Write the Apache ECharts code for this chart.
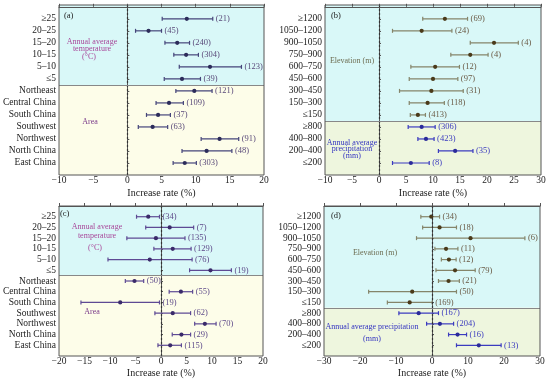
<!DOCTYPE html>
<html><head><meta charset="utf-8">
<script src="https://cdn.jsdelivr.net/npm/echarts@6/dist/echarts.min.js"></script>
<style>html,body{margin:0;padding:0;background:#fff}#c{width:550px;height:386px}</style>
</head><body><div id="c"></div>
<script>
// ---- data ----
const catsAC = ['≥25','20–25','15–20','10–15','5–10','≤5','Northeast','Central China','South China','Southwest','Northwest','North China','East China'];
const catsBD = ['≥1200','1050–1200','900–1050','750–900','600–750','450–600','300–450','150–300','≤150','≥800','400–800','200–400','≤200'];

const meanA = [8.7, 3.1, 7.3, 8.6, 12.1, 8.0, 9.8, 6.1, 4.5, 3.7, 13.5, 11.6, 8.4];
const lowA  = [5.1, 1.2, 5.5, 6.8, 7.6, 5.4, 7.1, 4.2, 2.8, 1.6, 10.8, 8.0, 6.7];
const highA = [12.5, 5.0, 9.1, 10.4, 16.7, 10.7, 12.4, 8.2, 6.3, 5.9, 16.3, 15.3, 10.1];
const nA    = [21, 45, 240, 304, 123, 39, 121, 109, 37, 63, 91, 48, 303];

const meanB = [12.2, 7.9, 21.3, 16.9, 10.4, 10.0, 9.7, 9.0, 7.2, 7.9, 8.7, 14.1, 5.9];
const lowB  = [8.1, 2.5, 16.9, 13.3, 5.9, 5.6, 3.8, 5.6, 5.8, 5.4, 7.2, 11.0, 2.5];
const highB = [16.4, 13.5, 25.8, 20.2, 14.9, 14.6, 15.6, 12.1, 8.6, 10.4, 10.2, 17.4, 9.3];
const nB    = [69, 24, 4, 4, 12, 97, 31, 118, 413, 306, 423, 35, 8];

const meanC = [-2.5, 1.7, -1.0, 2.3, -2.2, 9.7, -5.2, 3.9, -8.0, 2.3, 8.6, 4.0, 1.8];
const lowC  = [-4.8, -3.0, -6.7, -1.4, -10.4, 5.6, -7.0, 1.6, -15.7, -1.2, 6.6, 2.2, -0.6];
const highC = [-0.3, 6.4, 4.7, 5.9, 6.1, 13.8, -3.4, 6.2, -0.3, 5.8, 10.8, 5.8, 4.0];
const nC    = [34, 7, 135, 129, 76, 19, 50, 55, 19, 62, 70, 29, 115];

const meanD = [-0.2, 2.1, 10.7, 3.9, 4.7, 6.4, 4.6, -5.5, -6.2, -3.7, 2.2, 7.1, 13.0];
const lowD  = [-3.1, -2.6, -4.3, 0.8, 2.6, 1.1, 1.8, -17.6, -12.4, -9.2, -1.5, 4.6, 6.8];
const highD = [2.1, 6.8, 25.8, 7.2, 6.7, 12.0, 7.6, 6.8, 0.05, 1.8, 6.0, 9.6, 19.2];
const nD    = [34, 18, 6, 11, 12, 79, 21, 50, 169, 167, 204, 16, 13];

const xTicksA = {min: -10, max: 20, interval: 5};
const xTicksB = {min: -10, max: 30, interval: 5};
const xTicksC = {min: -20, max: 20, interval: 5};
const xTicksD = {min: -30, max: 30, interval: 10};

// ---- styling ----
const FONT = '"Liberation Serif","DejaVu Serif",serif';
const CYAN = '#d9f8f8', YEL = '#fdfde9', GRN = '#eef6de';
const panels = [
  {grid:{left:57, top:5, width:207, height:170}, cats:catsAC, mean:meanA, low:lowA, high:highA, n:nA, x:xTicksA, split:6,
   ymin:-0.15, c1:'#45457a', c2:'#45457a', l1:'#5a4a7a', l2:'#5a4a7a', d1:'#2c2c5a', d2:'#2c2c5a', bg2:YEL},
  {grid:{left:325, top:5, width:216, height:170}, cats:catsBD, mean:meanB, low:lowB, high:highB, n:nB, x:xTicksB, split:9,
   ymin:-0.15, c1:'#85856a', c2:'#3b3bbf', l1:'#6a5a45', l2:'#3b3bbf', d1:'#4a3a1a', d2:'#2a2a9a', bg2:GRN},
  {grid:{left:52, top:206, width:211, height:150}, cats:catsAC, mean:meanC, low:lowC, high:highC, n:nC, x:xTicksC, split:6,
   ymin:0, c1:'#5e4a94', c2:'#5e4a94', l1:'#5e4a8a', l2:'#5e4a8a', d1:'#3a2a6a', d2:'#3a2a6a', bg2:YEL},
  {grid:{left:324, top:206, width:216, height:150}, cats:catsBD, mean:meanD, low:lowD, high:highD, n:nD, x:xTicksD, split:9,
   ymin:0, c1:'#85856a', c2:'#3b3bbf', l1:'#6a5a45', l2:'#3b3bbf', d1:'#4a3a1a', d2:'#2a2a9a', bg2:GRN}
];

const rows = [1,2,3,4,5,6,7,8,9,10,11,12,13];
const grids = [], xAxes = [], yAxes = [], series = [];

function errRender(color, dotColor, labelColor) {
  return function(params, api) {
    const y = api.value(1);
    const m = api.coord([api.value(0), y]);
    const l = api.coord([api.value(2), y]);
    const h = api.coord([api.value(3), y]);
    const st = {stroke: color, lineWidth: 1.2};
    return {type:'group', children:[
      {type:'line', shape:{x1:l[0], y1:l[1], x2:h[0], y2:h[1]}, style:st},
      {type:'line', shape:{x1:l[0], y1:l[1]-2, x2:l[0], y2:l[1]+2}, style:st},
      {type:'line', shape:{x1:h[0], y1:h[1]-2, x2:h[0], y2:h[1]+2}, style:st},
      {type:'circle', shape:{cx:m[0], cy:m[1], r:2.1}, style:{fill:dotColor}},
      {type:'text', style:{x:h[0]+3, y:h[1], text:'(' + api.value(4) + ')', fill:labelColor,
        font:'8.5px ' + FONT, textVerticalAlign:'middle', verticalAlign:'middle'}}
    ]};
  };
}

panels.forEach((p, i) => {
  grids.push(Object.assign({show:true, borderColor:'#555', borderWidth:1, z:10, backgroundColor:'transparent'}, p.grid));
  xAxes.push({type:'value', gridIndex:i, min:p.x.min, max:p.x.max, interval:p.x.interval,
    name:'Increase rate (%)', nameLocation:'middle', nameGap: i < 2 ? 13 : 12,
    nameTextStyle:{fontFamily:FONT, fontSize:10, color:'#222'},
    axisLine:{show:true, lineStyle:{color:'#555'}}, splitLine:{show:false},
    axisTick:{show:true, inside:true, length:3, lineStyle:{color:'#555'}},
    axisLabel:{fontFamily:FONT, fontSize:9.5, color:'#222', margin:0,
      formatter: v => String(v).replace('-', '−')}});
  yAxes.push({type:'value', gridIndex:i, min:p.ymin, max:14, inverse:true,
    axisLine:{show:true, lineStyle:{color:'#555'}}, splitLine:{show:false},
    axisTick:{show:true, inside:true, length:2, customValues: rows, lineStyle:{color:'#555'}},
    axisLabel:{fontFamily:FONT, fontSize:9.5, color:'#222', margin:3, customValues: rows,
      formatter: v => p.cats[Math.round(v) - 1] || ''}});
  const top = [], bot = [];
  for (let k = 0; k < p.cats.length; k++) {
    const item = [p.mean[k], k + 1, p.low[k], p.high[k], p.n[k]];
    (k < p.split ? top : bot).push(item);
  }
  series.push({type:'custom', xAxisIndex:i, yAxisIndex:i, z:3, renderItem: errRender(p.c1, p.d1, p.l1),
    encode:{x:[0,2,3], y:1}, data: top,
    markArea:{silent:true, z:0, itemStyle:{opacity:1}, data:[
      [{yAxis:p.ymin, itemStyle:{color:CYAN}}, {yAxis:p.split + 0.5}],
      [{yAxis:p.split + 0.5, itemStyle:{color:p.bg2}}, {yAxis:14}]]},
    markLine:{silent:true, symbol:'none', animation:false, label:{show:false}, data:[
      {xAxis:0, lineStyle:{color:'#333', type:[2,2], width:1.2}},
      {yAxis:p.split + 0.5, lineStyle:{color:'#888', type:'solid', width:1.2}}]}
  });
  series.push({type:'custom', xAxisIndex:i, yAxisIndex:i, z:3, renderItem: errRender(p.c2, p.d2, p.l2),
    encode:{x:[0,2,3], y:1}, data: bot});
});

function txt(x, y, s, color, align, size) {
  return {type:'text', x:x, y:y, z:100, style:{text:s, fill:color, font:(size||8) + 'px ' + FONT,
    textAlign:align||'center', textVerticalAlign:'middle', align:align||'center', verticalAlign:'middle'}};
}
const PUR = '#a8489a', AREA = '#7a3a8a', OLV = '#6d6d52', BLU = '#3333c0';
const graphic = [
  txt(64, 16, '(a)', '#222', 'left', 8.5),
  txt(92, 42, 'Annual average', PUR), txt(92, 48.5, 'temperature', PUR), txt(89, 57, '(°C)', PUR),
  txt(90, 122, 'Area', AREA),
  txt(331, 16, '(b)', '#222', 'left', 8.5),
  txt(352, 61, 'Elevation (m)', OLV),
  txt(352, 142.5, 'Annual average', BLU), txt(352, 149, 'precipitation', BLU), txt(352, 155.5, '(mm)', BLU),
  txt(60, 214, '(c)', '#222', 'left', 8.5),
  txt(97, 227, 'Annual average', PUR), txt(97, 236, 'temperature', PUR), txt(95, 248, '(°C)', PUR),
  txt(92, 312, 'Area', AREA),
  txt(331, 216, '(d)', '#222', 'left', 8.5),
  txt(375, 253, 'Elevation (m)', OLV),
  txt(372, 327, 'Annual average precipitation', BLU), txt(372, 339, '(mm)', BLU)
];

const chart = echarts.init(document.getElementById('c'), null, {renderer:'canvas'});
chart.setOption({animation:false, backgroundColor:'#fff', grid:grids, xAxis:xAxes, yAxis:yAxes, series:series, graphic:graphic});
</script></body></html>
